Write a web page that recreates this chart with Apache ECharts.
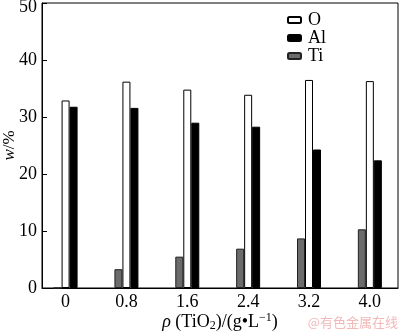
<!DOCTYPE html>
<html><head><meta charset="utf-8">
<script src="https://cdn.jsdelivr.net/npm/echarts@6/dist/echarts.min.js"></script>
<style>html,body{margin:0;padding:0;background:#fff}#c{width:400px;height:333px}</style>
</head><body><div id="c"></div>
<script>
const categories = ['0', '0.8', '1.6', '2.4', '3.2', '4.0'];
const xValues = [0, 0.8, 1.6, 2.4, 3.2, 4.0];
const tiValues = [0, 3.3, 5.5, 6.9, 8.7, 10.3];
const oValues = [32.9, 36.2, 34.8, 33.9, 36.5, 36.3];
const alValues = [31.8, 31.6, 29.0, 28.3, 24.3, 22.4];
const yTicks = [0, 10, 20, 30, 40, 50];

const font = 'Liberation Serif';
const chart = echarts.init(document.getElementById('c'));
const pair = arr => xValues.map((x, i) => [x, arr[i]]);
chart.setOption({
  animation: false,
  backgroundColor: '#fff',
  grid: { left: 42, right: 2, top: 3, bottom: 45, outerBoundsMode: 'none', containLabel: false,
    show: true, borderColor: '#000', borderWidth: 1, backgroundColor: 'transparent' },
  legend: {
    orient: 'vertical', left: 282, top: 6, itemWidth: 13, itemHeight: 6, itemGap: 0,
    data: ['O', 'Al', 'Ti'],
    textStyle: { fontFamily: font, fontSize: 18, lineHeight: 18, color: '#000', padding: [0, 0, 0, 2] }
  },
  xAxis: {
    type: 'value', min: -0.31, max: 4.37,
    name: '{i|ρ}{n| (TiO}{s|2}{n|)/(g•L}{u|−1}{n|)}',
    nameLocation: 'middle', nameGap: 24, nameMoveOverlap: false,
    nameTextStyle: {
      rich: {
        i: { fontFamily: font, fontSize: 18, fontStyle: 'italic', color: '#000' },
        n: { fontFamily: font, fontSize: 18, color: '#000' },
        s: { fontFamily: font, fontSize: 12, color: '#000', verticalAlign: 'bottom', padding: [8, 0, 0, 0] },
        u: { fontFamily: font, fontSize: 12, color: '#000', verticalAlign: 'top', padding: [0, 0, 8, 0] }
      }
    },
    axisLine: { onZero: false, lineStyle: { color: '#000' } },
    axisTick: { show: false },
    splitLine: { show: false },
    axisLabel: {
      customValues: xValues,
      formatter: v => categories[xValues.findIndex(x => Math.abs(x - v) < 1e-6)],
      fontFamily: font, fontSize: 18, color: '#000', margin: 5
    }
  },
  yAxis: {
    type: 'value', min: 0, max: 50, interval: 10,
    name: '{i|w}{n|/%}', nameLocation: 'middle', nameGap: 24, nameMoveOverlap: false,
    nameTextStyle: {
      rich: {
        i: { fontFamily: font, fontSize: 17, fontStyle: 'italic', color: '#000' },
        n: { fontFamily: font, fontSize: 17, color: '#000' }
      }
    },
    axisLine: { onZero: false, lineStyle: { color: '#000' } },
    axisTick: { inside: true, length: 5, lineStyle: { color: '#000' } },
    splitLine: { show: false },
    axisLabel: { fontFamily: font, fontSize: 18, color: '#000', margin: 5,
      formatter: v => !yTicks.includes(v) ? '' : (v === 50 ? '{top|50}' : String(v)),
      rich: { top: { fontFamily: font, fontSize: 18, color: '#000', padding: [8, 0, 0, 0] } } }
  },
  series: [
    { name: 'Ti', type: 'bar', barWidth: 8, barGap: '0%', data: pair(tiValues),
      itemStyle: { color: '#6b6b6b', borderColor: '#222', borderWidth: 1 } },
    { name: 'O', type: 'bar', barWidth: 8, barGap: '0%', data: pair(oValues),
      itemStyle: { color: '#fff', borderColor: '#000', borderWidth: 1 } },
    { name: 'Al', type: 'bar', barWidth: 8, barGap: '0%', data: pair(alValues),
      itemStyle: { color: '#000', borderColor: '#000', borderWidth: 1 } }
  ],
  graphic: [{ type: 'text', right: 2, bottom: 4,
    style: { text: '@有色金属在线', fill: '#f2b8b8', font: '13px "Noto Sans CJK SC"' } }]
});
</script></body></html>
